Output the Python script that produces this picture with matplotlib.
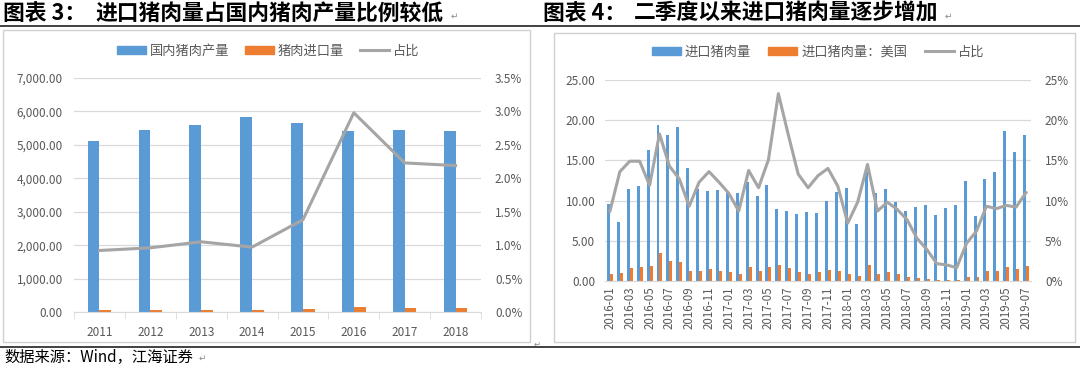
import matplotlib
matplotlib.use('Agg')
import matplotlib.pyplot as plt
import numpy as np
from matplotlib.lines import Line2D
from matplotlib.patches import Patch, Rectangle
from matplotlib.ticker import FuncFormatter, MultipleLocator

plt.rcParams['font.family'] = ['Noto Sans CJK SC', 'DejaVu Sans']

# chart 3: yearly production vs imports
years = ['2011', '2012', '2013', '2014', '2015', '2016', '2017', '2018']
prod = [5120, 5440, 5600, 5820, 5650, 5420, 5440, 5400]
imports = [47, 52, 58, 56, 78, 162, 122, 119]
share = [0.0092, 0.0096, 0.0105, 0.0097, 0.0138, 0.0298, 0.0223, 0.0219]

# chart 4: monthly imports 2016-01 .. 2019-07
months = ['2016-01', '2016-02', '2016-03', '2016-04', '2016-05', '2016-06', '2016-07', '2016-08',
          '2016-09', '2016-10', '2016-11', '2016-12', '2017-01', '2017-02', '2017-03', '2017-04',
          '2017-05', '2017-06', '2017-07', '2017-08', '2017-09', '2017-10', '2017-11', '2017-12',
          '2018-01', '2018-02', '2018-03', '2018-04', '2018-05', '2018-06', '2018-07', '2018-08',
          '2018-09', '2018-10', '2018-11', '2018-12', '2019-01', '2019-02', '2019-03', '2019-04',
          '2019-05', '2019-06', '2019-07']
imp_total = [9.6, 7.3, 11.4, 11.8, 16.3, 19.4, 18.2, 19.2, 14.0, 11.4, 11.2, 11.3, 11.1, 10.9,
             12.3, 10.6, 11.9, 9.0, 8.7, 8.3, 8.6, 8.4, 9.9, 11.1, 11.6, 7.1, 13.5, 10.9,
             11.5, 9.8, 8.7, 9.2, 9.4, 8.2, 9.1, 9.5, 12.5, 8.1, 12.7, 13.6, 18.7, 16.0, 18.2]
imp_us = [0.83, 1.0, 1.65, 1.7, 1.85, 3.5, 2.5, 2.4, 1.25, 1.3, 1.5, 1.3, 1.1, 0.9,
          1.7, 1.2, 1.75, 2.0, 1.6, 1.1, 0.9, 1.1, 1.35, 1.25, 0.85, 0.65, 1.95, 0.9,
          1.1, 0.85, 0.55, 0.4, 0.3, 0.15, 0.15, 0.15, 0.5, 0.5, 1.2, 1.2, 1.7, 1.45, 1.9]
us_share = [8.7, 13.6, 14.9, 14.9, 11.9, 18.3, 14.3, 12.7, 9.3, 12.3, 13.6, 12.3, 10.9, 8.7,
            13.75, 11.6, 15.1, 23.3, 18.2, 13.3, 11.6, 13.1, 14.0, 11.8, 7.2, 9.8, 14.5, 8.7,
            9.8, 8.9, 7.6, 5.3, 3.9, 2.15, 2.0, 1.65, 4.7, 6.2, 9.3, 9.0, 9.4, 9.2, 11.0]

BLUE = '#5B9BD5'
ORANGE = '#ED7D31'
GRAY = '#A5A5A5'
TXT = '#595959'
GRID = '#D9D9D9'

W, H = 1080, 369
fig = plt.figure(figsize=(W / 100, H / 100), dpi=100)


def box(x0, y0, x1, y1):
    # pixel box -> figure fraction
    return [x0 / W, 1 - y1 / H, (x1 - x0) / W, (y1 - y0) / H]


def style(ax, ax2):
    for a in (ax, ax2):
        for s in a.spines.values():
            s.set_visible(False)
        a.tick_params(length=0, colors=TXT, labelsize=8.5)
    ax.spines['bottom'].set_visible(True)
    ax.spines['bottom'].set_color(GRID)
    ax.yaxis.grid(True, color=GRID, lw=0.9)
    ax.set_axisbelow(True)


# frames, rules and titles
fig.add_artist(Rectangle((3 / W, 1 - 342 / H), 527 / W, 312 / H, transform=fig.transFigure,
                         fill=False, ec='#D0D0D0', lw=1))
fig.add_artist(Rectangle((554 / W, 1 - 342 / H), 521 / W, 309 / H, transform=fig.transFigure,
                         fill=False, ec='#D0D0D0', lw=1))
fig.add_artist(Line2D([0, 1], [1 - 25.5 / H] * 2, color='#333333', lw=1.3))
fig.add_artist(Line2D([0, 1], [1 - 346.5 / H] * 2, color='#333333', lw=1.3))

fig.text(3 / W, 1 - 13 / H, '图表 3：', fontsize=15.7, fontweight='bold', va='center')
fig.text(95 / W, 1 - 13 / H, '进口猪肉量占国内猪肉产量比例较低', fontsize=15.7, fontweight='bold', va='center')
fig.text(451 / W, 1 - 16 / H, '↵', fontsize=6.5, color='#888888', va='center')
fig.text(543 / W, 1 - 13 / H, '图表 4：', fontsize=15.7, fontweight='bold', va='center')
fig.text(634 / W, 1 - 13 / H, '二季度以来进口猪肉量逐步增加', fontsize=15.7, fontweight='bold', va='center')
fig.text(945 / W, 1 - 16 / H, '↵', fontsize=6.5, color='#888888', va='center')
fig.text(4 / W, 1 - 357 / H, '数据来源：Wind，江海证券', fontsize=11, va='center')
fig.text(199 / W, 1 - 358 / H, '↵', fontsize=6.5, color='#888888', va='center')
fig.text(534 / W, 1 - 344 / H, '↵', fontsize=6, color='#888888', va='center')

# ---- chart 3
ax = fig.add_axes(box(74, 78, 481, 312))
ax2 = ax.twinx()
x = np.arange(len(years))
bw = 0.23
ax.bar(x - bw / 2, prod, bw, color=BLUE)
ax.bar(x + bw / 2, imports, bw, color=ORANGE)
ax2.plot(x, share, color=GRAY, lw=2.2)
ax.set_xlim(-0.5, len(years) - 0.5)
ax.set_ylim(0, 7000)
ax.yaxis.set_major_locator(MultipleLocator(1000))
ax.yaxis.set_major_formatter(FuncFormatter(lambda v, p: f'{v:,.2f}'))
ax2.set_ylim(0, 0.035)
ax2.yaxis.set_major_locator(MultipleLocator(0.005))
ax2.yaxis.set_major_formatter(FuncFormatter(lambda v, p: f'{v * 100:.1f}%'))
ax.set_xticks(x)
ax.set_xticklabels(years)
style(ax, ax2)
ax.set_xticks(np.arange(-0.5, len(years)), minor=True)
ax.tick_params(axis='x', which='minor', length=5, color=GRID)
ax.tick_params(axis='x', pad=10)
ax.tick_params(axis='y', pad=8)
ax2.tick_params(axis='y', pad=10)

h3 = [Patch(color=BLUE), Patch(color=ORANGE), Line2D([], [], color=GRAY, lw=2.2)]
fig.legend(h3, ['国内猪肉产量', '猪肉进口量', '占比'], loc='center', ncol=3,
           bbox_to_anchor=(268 / W, 1 - 51 / H), frameon=False, fontsize=9.5,
           labelcolor=TXT, handlelength=2.2, handleheight=0.6, columnspacing=1.2, handletextpad=0.3)

# ---- chart 4
bx = fig.add_axes(box(605, 80, 1031, 281))
bx2 = bx.twinx()
m = np.arange(len(months))
bw = 0.3
bx.bar(m - bw / 2, imp_total, bw, color=BLUE)
bx.bar(m + bw / 2, imp_us, bw, color=ORANGE)
bx2.plot(m, np.array(us_share) / 100, color=GRAY, lw=2.2)
bx.set_xlim(-0.5, len(months) - 0.5)
bx.set_ylim(0, 25)
bx.yaxis.set_major_locator(MultipleLocator(5))
bx.yaxis.set_major_formatter(FuncFormatter(lambda v, p: f'{v:.2f}'))
bx2.set_ylim(0, 0.25)
bx2.yaxis.set_major_locator(MultipleLocator(0.05))
bx2.yaxis.set_major_formatter(FuncFormatter(lambda v, p: f'{v * 100:.0f}%'))
bx.set_xticks(m[::2])
bx.set_xticklabels(months[::2], rotation=90)
style(bx, bx2)
bx.tick_params(axis='x', pad=4, labelsize=8.3)
bx.tick_params(axis='y', pad=7)
bx2.tick_params(axis='y', pad=10)

h4 = [Patch(color=BLUE), Patch(color=ORANGE), Line2D([], [], color=GRAY, lw=2.2)]
fig.legend(h4, ['进口猪肉量', '进口猪肉量：美国', '占比'], loc='center', ncol=3,
           bbox_to_anchor=(818 / W, 1 - 52 / H), frameon=False, fontsize=9.5,
           labelcolor=TXT, handlelength=2.2, handleheight=0.6, columnspacing=1.3, handletextpad=0.3)

fig.savefig('out.png', dpi=100)
